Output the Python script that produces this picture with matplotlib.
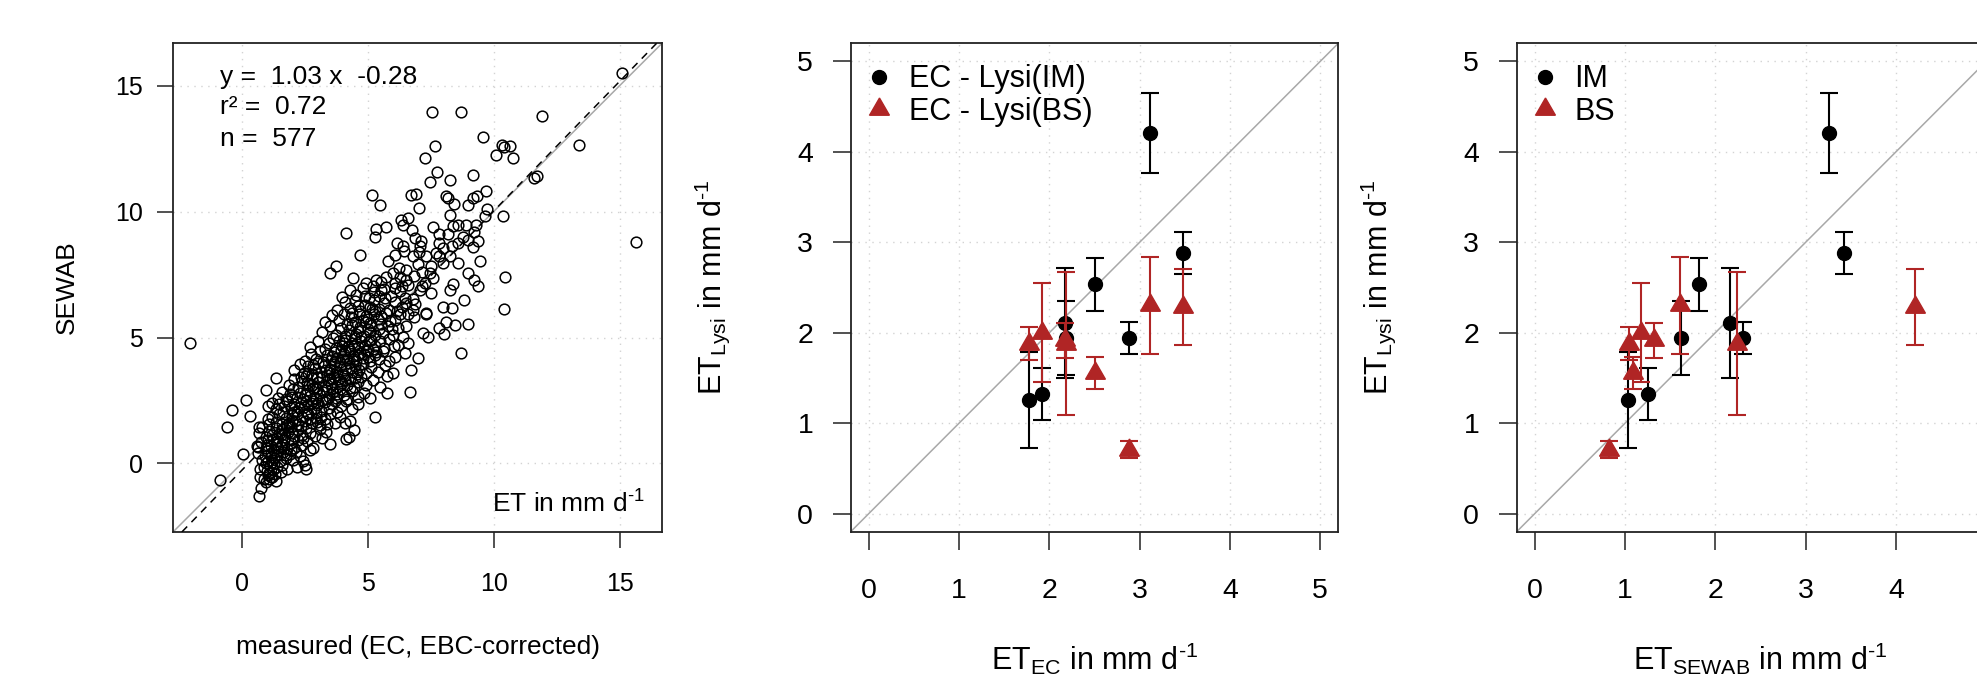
import numpy as np
import matplotlib
matplotlib.use('Agg')
import matplotlib.pyplot as plt
from matplotlib.lines import Line2D

plt.rcParams['font.family'] = ['Liberation Sans', 'DejaVu Sans']
plt.rcParams['mathtext.fontset'] = 'custom'
plt.rcParams['mathtext.rm'] = 'Liberation Sans'
plt.rcParams['mathtext.it'] = 'Liberation Sans:italic'
plt.rcParams['mathtext.default'] = 'regular'
plt.rcParams['axes.unicode_minus'] = False

# daily ET, measured (EC, EBC-corrected) vs SEWAB
daily_points = [
	(0.69,-1.30),(0.78,-0.97),(0.74,-0.53),(0.95,-0.75),(1.08,-0.62),(1.22,-0.55),(0.88,-0.60),(1.35,-0.70),
	(1.05,-0.45),(1.18,-0.52),(1.31,-0.42),(-0.87,-0.67),
	(0.74,-0.20),(0.88,-0.15),(1.00,-0.30),(1.12,-0.08),(1.25,-0.25),(1.40,-0.12),(1.55,-0.35),(0.95,0.00),
	(1.62,-0.05),(1.80,-0.20),(2.20,-0.13),(2.54,-0.20),(2.50,-0.07),(1.10,-0.38),(1.30,0.02),
	(0.65,0.40),(0.80,0.15),(0.92,0.30),(1.05,0.10),(1.15,0.42),(1.28,0.22),(1.40,0.35),(1.52,0.08),
	(1.65,0.45),(1.78,0.20),(1.92,0.38),(2.05,0.12),(2.30,0.30),(1.00,0.48),(1.20,0.05),(1.45,0.48),
	(2.15,0.45),(0.07,0.37),(2.45,0.10),
	(0.62,0.70),(0.78,0.85),(0.95,0.60),(1.05,0.92),(1.18,0.70),(1.30,0.55),(1.42,0.88),(1.55,0.65),
	(1.68,0.95),(1.80,0.58),(1.95,0.80),(2.10,0.62),(2.25,0.95),(2.40,0.72),(2.60,0.88),(2.85,0.60),
	(3.49,0.79),(4.15,0.99),(1.00,0.75),(1.25,0.98),(1.60,0.78),(2.00,0.98),(0.65,0.66),(2.70,0.55),
	(0.70,1.20),(0.82,1.46),(0.69,1.46),(0.95,1.05),(1.08,1.30),(1.20,1.12),(1.35,1.42),(1.48,1.18),
	(1.60,1.35),(1.72,1.05),(1.85,1.25),(1.98,1.45),(2.10,1.10),(2.25,1.32),(2.40,1.15),(2.55,1.40),
	(2.72,1.22),(2.90,1.08),(3.10,1.35),(3.36,1.26),(4.28,1.06),(4.48,1.32),(1.40,1.02),(1.90,1.48),
	(2.35,1.48),(-0.57,1.46),(3.20,1.02),(2.00,1.22),
	(0.35,1.88),(1.10,1.55),(1.22,1.85),(1.35,1.65),(1.50,1.95),(1.62,1.58),(1.75,1.80),(1.88,1.62),
	(2.00,1.92),(2.12,1.70),(2.25,1.55),(2.38,1.85),(2.50,1.68),(2.65,1.95),(2.80,1.60),(2.95,1.82),
	(3.10,1.52),(3.30,1.75),(3.50,1.98),(3.70,1.60),(3.90,1.85),(4.09,1.59),(4.30,1.70),(5.29,1.83),
	(1.05,1.75),(1.80,1.52),(2.20,1.98),(2.70,1.78),(3.00,1.65),(3.40,1.55),
	(-0.39,2.12),(1.05,2.28),(1.20,2.40),(1.35,2.15),(1.50,2.35),(1.65,2.05),(1.80,2.48),(1.95,2.20),
	(2.08,2.38),(2.20,2.08),(2.35,2.45),(2.48,2.25),(2.60,2.02),(2.75,2.40),(2.88,2.15),(3.00,2.32),
	(3.15,2.10),(3.30,2.45),(3.45,2.20),(3.60,2.38),(3.80,2.05),(3.95,2.30),(4.15,2.48),(4.40,2.15),
	(4.60,2.35),(2.10,2.05),(2.55,2.48),(2.95,2.00),(3.70,2.48),(1.70,2.30),
	(0.19,2.52),(0.98,2.92),(1.45,2.60),(1.60,2.85),(1.78,2.55),(1.92,2.75),(2.05,2.95),(2.18,2.62),
	(2.30,2.80),(2.45,2.55),(2.58,2.90),(2.70,2.68),(2.82,2.98),(2.95,2.58),(3.08,2.78),(3.20,2.52),
	(3.35,2.92),(3.48,2.65),(3.62,2.85),(3.75,2.58),(3.90,2.95),(4.05,2.70),(4.20,2.55),(4.40,2.88),
	(4.60,2.62),(4.85,2.80),(5.78,2.81),(6.69,2.85),(2.00,2.65),(2.50,2.70),(3.00,2.95),(3.40,2.55),
	(3.80,2.75),(4.30,2.98),(5.10,2.60),
	(1.38,3.41),(1.90,3.10),(2.10,3.35),(2.25,3.05),(2.40,3.28),(2.55,3.48),(2.68,3.12),(2.80,3.38),
	(2.92,3.02),(3.05,3.25),(3.18,3.45),(3.30,3.08),(3.42,3.30),(3.55,3.15),(3.68,3.42),(3.80,3.05),
	(3.92,3.28),(4.05,3.48),(4.18,3.12),(4.30,3.35),(4.45,3.02),(4.60,3.22),(4.75,3.45),(4.95,3.10),
	(5.20,3.32),(5.50,3.05),(5.77,3.47),(2.60,3.20),(3.00,3.45),(3.50,3.38),(4.00,3.18),(4.50,3.40),
	(2.35,3.45),
	(2.10,3.72),(2.30,3.95),(2.48,3.60),(2.62,3.85),(2.78,3.55),(2.90,3.78),(3.02,3.98),(3.15,3.62),
	(3.28,3.88),(3.40,3.52),(3.52,3.75),(3.65,3.95),(3.78,3.65),(3.90,3.85),(4.02,3.55),(4.15,3.78),
	(4.28,3.98),(4.40,3.62),(4.52,3.88),(4.65,3.70),(4.80,3.95),(4.95,3.58),(5.15,3.82),(5.40,3.65),
	(5.70,3.90),(6.00,3.58),(6.73,3.71),(3.35,3.70),(3.80,3.52),(4.35,3.80),(2.85,3.90),
	(2.50,4.05),(2.75,4.35),(2.95,4.15),(3.12,4.45),(3.25,4.02),(3.40,4.30),(3.55,4.10),(3.68,4.42),
	(3.80,4.20),(3.92,4.02),(4.05,4.35),(4.18,4.12),(4.30,4.48),(4.42,4.25),(4.55,4.05),(4.68,4.40),
	(4.80,4.18),(4.95,4.45),(5.10,4.08),(5.28,4.32),(5.45,4.15),(5.62,4.45),(5.85,4.05),(6.07,4.24),
	(6.47,4.37),(6.99,4.20),(8.71,4.40),(3.60,4.25),(4.10,4.48),(4.60,4.30),(5.00,4.22),
	(2.70,4.62),(3.05,4.88),(3.30,4.55),(3.48,4.78),(3.62,4.98),(3.75,4.60),(3.88,4.85),(4.00,4.65),
	(4.12,4.92),(4.25,4.55),(4.38,4.80),(4.50,4.98),(4.62,4.62),(4.75,4.88),(4.88,4.70),(5.02,4.52),
	(5.15,4.90),(5.30,4.65),(5.48,4.85),(5.65,4.58),(5.85,4.95),(6.05,4.68),(6.20,4.71),(6.60,4.77),
	(-2.03,4.77),(4.05,4.80),(4.45,4.68),(5.20,4.55),(3.95,4.52),
	(3.20,5.20),(3.50,5.45),(3.75,5.10),(3.95,5.38),(4.10,5.05),(4.25,5.30),(4.40,5.48),(4.55,5.15),
	(4.70,5.40),(4.85,5.08),(5.00,5.32),(5.15,5.50),(5.30,5.12),(5.45,5.35),(5.61,5.17),(5.80,5.45),
	(6.00,5.10),(6.20,5.38),(6.40,5.04),(6.53,5.46),(7.19,5.17),(7.39,5.04),(7.85,5.37),(8.05,5.13),
	(8.45,5.50),(8.98,5.53),(4.60,5.25),(5.10,5.20),
	(3.30,5.62),(3.60,5.90),(3.85,5.70),(4.05,5.95),(4.20,5.55),(4.35,5.80),(4.50,5.60),(4.65,5.92),
	(4.80,5.68),(4.95,5.85),(5.10,5.58),(5.25,5.95),(5.40,5.72),(5.55,5.52),(5.74,5.97),(5.90,5.65),
	(6.07,5.70),(6.30,5.92),(6.86,5.83),(7.32,5.94),(7.32,5.99),(8.12,5.60),(4.40,5.98),(5.00,5.75),
	(3.80,6.10),(4.10,6.40),(4.30,6.18),(4.50,6.45),(4.70,6.05),(4.90,6.30),(5.08,6.23),(5.25,6.48),
	(5.45,6.15),(5.65,6.38),(5.85,6.08),(6.10,6.42),(6.35,6.20),(6.53,6.36),(6.80,6.10),(7.99,6.23),
	(8.34,6.19),(8.81,6.50),(10.40,6.12),(4.60,6.25),(5.30,6.05),
	(4.00,6.60),(4.30,6.90),(4.55,6.70),(4.80,6.95),(5.05,6.55),(5.25,6.80),(5.47,6.63),(5.65,6.92),
	(5.94,6.63),(6.27,6.83),(6.50,6.58),(6.80,6.52),(7.06,6.90),(7.52,6.76),(8.25,6.90),(5.54,6.90),
	(4.90,6.65),(6.10,6.98),
	(4.42,7.35),(4.95,7.16),(5.21,7.03),(5.34,7.29),(5.74,7.42),(6.07,7.16),(6.30,7.40),(6.60,7.10),
	(7.26,7.16),(7.59,7.36),(8.38,7.12),(9.24,7.27),(9.37,7.05),(10.47,7.40),(5.55,7.20),(6.85,7.45),
	(6.53,7.30),
	(3.49,7.56),(3.76,7.85),(5.81,8.02),(6.00,7.56),(6.53,7.69),(7.46,7.56),(7.52,7.83),(7.99,7.96),
	(8.58,7.96),(8.99,7.56),(9.44,8.02),(7.00,7.90),(6.25,7.75),(7.15,7.62),
	(4.68,8.29),(6.07,8.29),(6.80,8.22),(7.32,8.22),(7.72,8.35),(7.85,8.22),(8.25,8.22),(8.36,8.62),
	(6.45,8.45),(7.05,8.40),
	(5.29,8.99),(6.16,8.75),(6.40,8.62),(7.06,8.62),(7.10,8.82),(7.85,8.75),(7.99,8.55),(8.58,8.75),
	(8.78,8.98),(9.00,8.88),(9.37,8.84),(9.18,8.59),(6.90,8.95),
	(4.15,9.15),(5.32,9.31),(5.74,9.39),(6.40,9.48),(6.77,9.28),(7.59,9.38),(7.85,9.11),(8.20,9.12),
	(8.38,9.44),(8.58,9.47),(8.91,9.47),(9.31,9.47),(9.24,9.18),
	(6.33,9.68),(6.60,9.75),(8.25,9.88),(9.66,9.81),(10.36,9.81),(7.03,10.14),(5.50,10.28),(5.16,10.67),
	(6.72,10.65),(6.92,10.71),(8.12,10.61),(8.20,10.52),(8.41,10.32),(8.99,10.28),(9.18,10.52),(9.33,10.61),
	(9.74,10.12),(9.68,10.83),(7.46,11.17),(8.25,11.25),(9.19,11.46),(7.76,11.59),(11.62,11.34),(11.71,11.43),
	(7.29,12.13),(10.10,12.23),(10.34,12.64),(10.43,12.56),(10.66,12.60),(10.77,12.12),(13.40,12.65),(7.67,12.59),
	(9.59,12.98),(7.56,13.96),(8.71,13.95),(11.90,13.81),(15.08,15.49),(15.65,8.80),
	(1.15,0.25),(1.35,0.78),(1.58,1.12),(1.75,0.35),(2.02,1.68),(2.28,2.22),(2.42,1.02),(2.62,2.32),
	(2.78,3.12),(3.05,2.42),(3.25,2.85),(3.45,3.62),(3.58,2.95),(3.72,4.05),(3.85,3.35),(4.02,4.15),
	(4.12,3.30),(4.22,4.62),(4.35,5.10),(4.48,4.15),(4.58,3.55),(4.72,5.02),(4.85,4.35),(4.92,5.62),
	(5.05,4.85),(5.18,6.15),(5.35,4.42),(5.52,5.85),(5.68,6.55),(5.95,5.32),(6.15,6.05),(6.35,7.05),
	(6.62,5.92),(6.90,6.35),(7.15,7.05),(3.15,1.85),(2.85,2.48),(1.95,0.55),(1.45,0.62),(2.65,3.58),
]
reg_slope = 1.03
reg_icpt = -0.28
reg_r2 = 0.72
reg_n = 577

# lysimeter comparison, IM
ec_im = [1.77, 1.92, 2.17, 2.18, 2.51, 2.88, 3.11, 3.48]
sewab_im = [1.03, 1.25, 2.16, 1.62, 1.82, 2.31, 3.26, 3.43]
lysi_im = [1.255, 1.325, 2.11, 1.94, 2.535, 1.94, 4.21, 2.88]
lysi_im_sd = [0.535, 0.285, 0.61, 0.41, 0.295, 0.18, 0.44, 0.23]

# lysimeter comparison, BS
ec_bs = [1.77, 1.92, 2.18, 2.17, 2.51, 2.88, 3.11, 3.48]
sewab_bs = [1.04, 1.18, 2.24, 1.325, 1.085, 0.826, 1.61, 4.21]
lysi_bs = [1.88, 2.00, 1.88, 1.915, 1.555, 0.705, 2.305, 2.28]
lysi_bs_sd = [0.18, 0.55, 0.795, 0.19, 0.175, 0.095, 0.535, 0.42]

red = '#B02525'
gridStyle = dict(color='#d3d3d3', linestyle=(0, (1, 4)), linewidth=1.0)
tri = (3, 0, 0)
perDay = 'd$^{\u20101}$'

W, H = 1977, 675
fig = plt.figure(figsize=(W / 100, H / 100), dpi=100)

def box(l, t, r, b):
	return [l / W, 1 - b / H, (r - l) / W, (b - t) / H]

def styleAxes(ax, ticks, tickLen, tickFs, padX, padY):
	ax.set_xticks(ticks)
	ax.set_yticks(ticks)
	ax.tick_params(direction='out', length=tickLen, width=1.1, labelsize=tickFs, color='#222222')
	ax.tick_params(axis='x', pad=padX)
	ax.tick_params(axis='y', pad=padY)
	for s in ax.spines.values():
		s.set_linewidth(1.3)
		s.set_color('#222222')
	for t in ticks:
		ax.axvline(t, zorder=0, **gridStyle)
		ax.axhline(t, zorder=0, **gridStyle)

# ---- panel 1: scatter
ax1 = fig.add_axes(box(173, 43.3, 662, 532))
lim1 = (-2.72, 16.68)
ax1.set_xlim(lim1)
ax1.set_ylim(lim1)
styleAxes(ax1, [0, 5, 10, 15], 11.5, 18, 17, 10)
px = [p[0] for p in daily_points]
py = [p[1] for p in daily_points]
ax1.plot(lim1, lim1, color='#a8a8a8', linewidth=1.1, zorder=1)
ax1.plot(px, py, linestyle='none', marker='o', markersize=7.7, markerfacecolor='none',
	markeredgecolor='black', markeredgewidth=1.1, zorder=2)
ax1.axline((0, reg_icpt), slope=reg_slope, color='black', linewidth=1.1, linestyle=(0, (5, 4)), zorder=3)
ax1.text(0.0955, 0.917, 'y =  %.2f x  %.2f' % (reg_slope, reg_icpt), transform=ax1.transAxes, fontsize=19, va='baseline')
ax1.text(0.0955, 0.855, 'r\u00b2 =  %.2f' % reg_r2, transform=ax1.transAxes, fontsize=19, va='baseline')
ax1.text(0.0955, 0.790, 'n =  %d' % reg_n, transform=ax1.transAxes, fontsize=19, va='baseline')
ax1.text(0.9646, 0.039, 'ET in mm ' + perDay, transform=ax1.transAxes, fontsize=19, ha='right', va='baseline')
ax1.set_xlabel('measured (EC, EBC-corrected)', fontsize=18.9)
ax1.xaxis.label.set_va('baseline')
ax1.xaxis.set_label_coords(0.5, -0.25)
ax1.set_ylabel('SEWAB', fontsize=18.9)
ax1.yaxis.label.set_va('baseline')
ax1.yaxis.set_label_coords(-0.2025, 0.5)

# ---- panels 2 and 3: lysimeter comparison
def lysiPanel(ax, xIm, xBs, xlabel, labels):
	lim = (-0.2, 5.2)
	ax.set_xlim(lim)
	ax.set_ylim(lim)
	styleAxes(ax, [0, 1, 2, 3, 4, 5], 13, 20.5, 20.5, 14)
	ax.plot(lim, lim, color='#a8a8a8', linewidth=1.1, zorder=1)
	ax.errorbar(xIm, lysi_im, yerr=lysi_im_sd, fmt='o', color='black', markersize=10,
		elinewidth=1.5, capsize=6.5, capthick=1.5, zorder=3)
	ax.errorbar(xBs, lysi_bs, yerr=lysi_bs_sd, fmt='none', ecolor=red,
		elinewidth=1.5, capsize=6.5, capthick=1.5, zorder=4)
	ax.plot(xBs, lysi_bs, linestyle='none', marker=tri, markersize=16.5, color=red, zorder=5)
	handles = [Line2D([], [], linestyle='none', marker='o', markersize=10, color='black'),
		Line2D([], [], linestyle='none', marker=tri, markersize=16.5, color=red)]
	ax.legend(handles, labels, loc='upper left', bbox_to_anchor=(0.026, 0.957), frameon=False,
		fontsize=22, borderpad=0, borderaxespad=0, handlelength=1.0, handletextpad=0.48,
		labelspacing=0.08)
	ax.set_xlabel(xlabel, fontsize=22)
	ax.xaxis.label.set_va('baseline')
	ax.xaxis.set_label_coords(0.5, -0.283)
	ax.set_ylabel('ET$_{Lysi}$ in mm ' + perDay, fontsize=22)
	ax.yaxis.label.set_va('baseline')
	ax.yaxis.set_label_coords(-0.266, 0.5)

ax2 = fig.add_axes(box(850.7, 43.3, 1338.3, 531.7))
lysiPanel(ax2, ec_im, ec_bs, 'ET$_{EC}$ in mm ' + perDay, ['EC - Lysi(IM)', 'EC - Lysi(BS)'])

ax3 = fig.add_axes(box(1516.7, 43.3, 2004.3, 531.7))
lysiPanel(ax3, sewab_im, sewab_bs, 'ET$_{SEWAB}$ in mm ' + perDay, ['IM', 'BS'])
# the "5" label of this panel lies past the right edge of the figure
ax3.set_xticklabels(['0', '1', '2', '3', '4', ''])

fig.savefig('out.png', dpi=100)
